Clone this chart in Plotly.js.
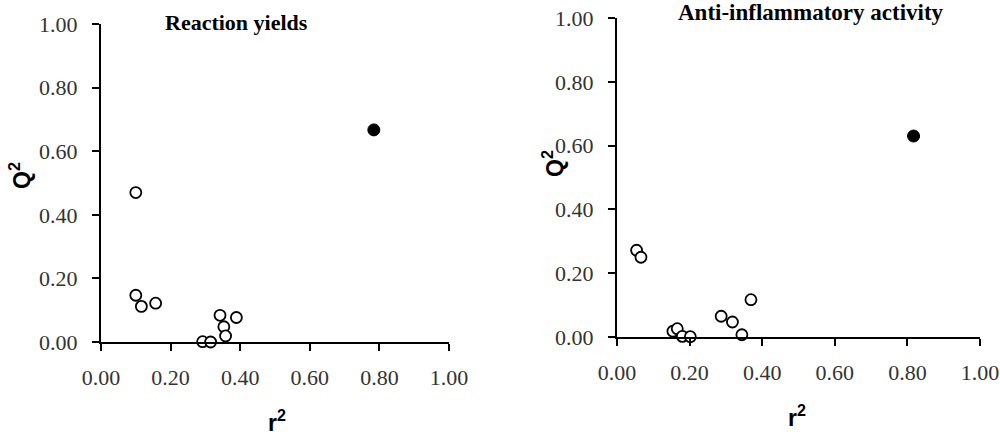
<!DOCTYPE html>
<html>
<head>
<meta charset="utf-8">
<script src="https://cdn.plot.ly/plotly-3.0.1.min.js"></script>
<style>html,body{margin:0;padding:0;background:#fff}#chart{width:1000px;height:435px}</style>
</head>
<body>
<div id="chart"></div>
<script>
// Reaction yields panel
const yieldsOpenR2 = [0.100, 0.100, 0.116, 0.157, 0.342, 0.389, 0.353, 0.358, 0.292, 0.315];
const yieldsOpenQ2 = [0.470, 0.147, 0.112, 0.122, 0.084, 0.077, 0.048, 0.019, 0.001, 0.000];
const yieldsModelR2 = [0.784];
const yieldsModelQ2 = [0.667];
// Anti-inflammatory activity panel
const antiOpenR2 = [0.054, 0.066, 0.154, 0.166, 0.180, 0.202, 0.287, 0.318, 0.344, 0.369];
const antiOpenQ2 = [0.272, 0.250, 0.018, 0.026, 0.002, 0.001, 0.065, 0.047, 0.007, 0.117];
const antiModelR2 = [0.817];
const antiModelQ2 = [0.630];

const tickVals = [0, 0.2, 0.4, 0.6, 0.8, 1.0];
const tickText = ["0.00", "0.20", "0.40", "0.60", "0.80", "1.00"];
const panelTitles = ["Reaction yields", "Anti-inflammatory activity"];
const xTitle = "r<sup>2</sup>";
const yTitle = "Q<sup>2</sup>";

const SERIF = 'Liberation Serif';
const SANS = 'Liberation Sans';

const openMarker = {symbol: 'circle', size: 11, color: '#ffffff', line: {color: '#000000', width: 1.8}};
const fillMarker = {symbol: 'circle', size: 12, color: '#000000', line: {color: '#000000', width: 1}};

const traces = [
  {x: yieldsOpenR2, y: yieldsOpenQ2, type: 'scatter', mode: 'markers', marker: openMarker, xaxis: 'x', yaxis: 'y', cliponaxis: false},
  {x: yieldsModelR2, y: yieldsModelQ2, type: 'scatter', mode: 'markers', marker: fillMarker, xaxis: 'x', yaxis: 'y', cliponaxis: false},
  {x: antiOpenR2, y: antiOpenQ2, type: 'scatter', mode: 'markers', marker: openMarker, xaxis: 'x2', yaxis: 'y2', cliponaxis: false},
  {x: antiModelR2, y: antiModelQ2, type: 'scatter', mode: 'markers', marker: fillMarker, xaxis: 'x2', yaxis: 'y2', cliponaxis: false}
];

function axisBase(extra) {
  return Object.assign({
    range: [0, 1], tickmode: 'array', tickvals: tickVals, ticktext: tickText,
    showline: true, linecolor: '#000', linewidth: 2, ticks: 'outside', ticklen: 7, tickwidth: 2, tickcolor: '#000',
    showgrid: false, zeroline: false,
    tickfont: {family: SERIF, size: 22, color: '#333333'}
  }, extra);
}

const W = 1000, H = 435;
const layout = {
  width: W, height: H,
  font: {family: SERIF, size: 22, color: '#333333'},
  margin: {l: 0, r: 0, t: 0, b: 0},
  paper_bgcolor: '#fff', plot_bgcolor: 'rgba(0,0,0,0)',
  showlegend: false,
  xaxis: axisBase({domain: [101 / W, 449 / W], anchor: 'y', ticklabelstandoff: 8}),
  yaxis: axisBase({domain: [1 - 342 / H, 1 - 24 / H], anchor: 'x', ticklabelstandoff: 10}),
  xaxis2: axisBase({domain: [617 / W, 980 / W], anchor: 'y2', ticklabelstandoff: 8}),
  yaxis2: axisBase({domain: [1 - 337 / H, 1 - 18 / H], anchor: 'x2', ticklabelstandoff: 10}),
  annotations: [
    {text: '<b>' + panelTitles[0] + '</b>', x: 236 / W, y: 1 - 22 / H, xref: 'paper', yref: 'paper', showarrow: false, xanchor: 'center', yanchor: 'middle',
     font: {family: SERIF, size: 22, color: '#000'}},
    {text: '<b>' + panelTitles[1] + '</b>', x: 811 / W, y: 1 - 12 / H, xref: 'paper', yref: 'paper', showarrow: false, xanchor: 'center', yanchor: 'middle',
     font: {family: SERIF, size: 23, color: '#000'}},
    {text: '<b>' + xTitle + '</b>', x: 277 / W, y: 1 - 421 / H, xref: 'paper', yref: 'paper', showarrow: false, xanchor: 'center', yanchor: 'middle',
     font: {family: SANS, size: 23, color: '#000'}},
    {text: '<b>' + xTitle + '</b>', x: 797 / W, y: 1 - 416 / H, xref: 'paper', yref: 'paper', showarrow: false, xanchor: 'center', yanchor: 'middle',
     font: {family: SANS, size: 23, color: '#000'}},
    {text: '<b>' + yTitle + '</b>', x: 20 / W, y: 1 - 176 / H, xref: 'paper', yref: 'paper', showarrow: false, xanchor: 'center', yanchor: 'middle', textangle: -90,
     font: {family: SANS, size: 23, color: '#000'}},
    {text: '<b>' + yTitle + '</b>', x: 553 / W, y: 1 - 164 / H, xref: 'paper', yref: 'paper', showarrow: false, xanchor: 'center', yanchor: 'middle', textangle: -90,
     font: {family: SANS, size: 23, color: '#000'}}
  ]
};

Plotly.newPlot('chart', traces, layout, {staticPlot: true, displayModeBar: false});
</script>
</body>
</html>
